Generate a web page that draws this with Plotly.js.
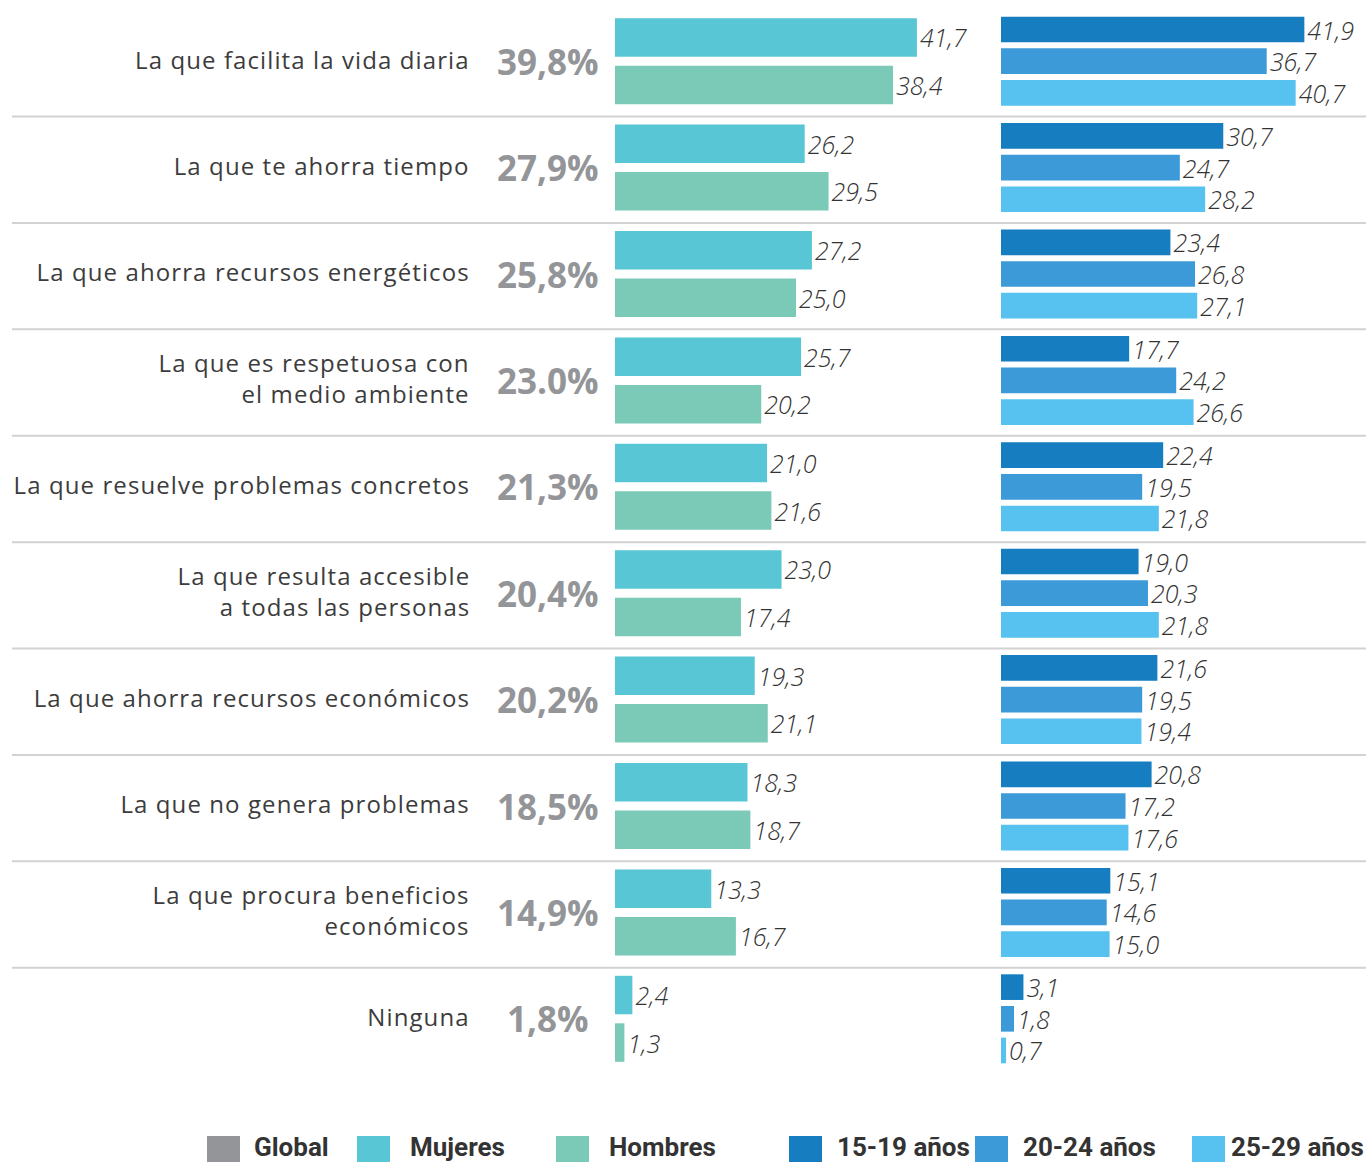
<!DOCTYPE html>
<html><head><meta charset="utf-8">
<script src="https://cdn.plot.ly/plotly-3.0.1.min.js"></script>
<style>html,body{margin:0;padding:0;background:#fff;overflow:hidden}</style>
<style id="lsp"></style>
</head>
<body>
<div id="chart" style="width:1366px;height:1162px"></div>
<script>
const categories = [
  "La que facilita la vida diaria",
  "La que te ahorra tiempo",
  "La que ahorra recursos energéticos",
  "La que es respetuosa con<br>el medio ambiente",
  "La que resuelve problemas concretos",
  "La que resulta accesible<br>a todas las personas",
  "La que ahorra recursos económicos",
  "La que no genera problemas",
  "La que procura beneficios<br>económicos",
  "Ninguna"
];
const globalLabels = ["39,8%","27,9%","25,8%","23.0%","21,3%","20,4%","20,2%","18,5%","14,9%","1,8%"];
const mujeres = [41.7, 26.2, 27.2, 25.7, 21.0, 23.0, 19.3, 18.3, 13.3, 2.4];
const hombres = [38.4, 29.5, 25.0, 20.2, 21.6, 17.4, 21.1, 18.7, 16.7, 1.3];
const age1519 = [41.9, 30.7, 23.4, 17.7, 22.4, 19.0, 21.6, 20.8, 15.1, 3.1];
const age2024 = [36.7, 24.7, 26.8, 24.2, 19.5, 20.3, 19.5, 17.2, 14.6, 1.8];
const age2529 = [40.7, 28.2, 27.1, 26.6, 21.8, 21.8, 19.4, 17.6, 15.0, 0.7];
const legendLabels = ["Global","Mujeres","Hombres","15-19 años","20-24 años","25-29 años"];

const colors = {
  global: "#939598", mujeres: "#58C6D5", hombres: "#7BCAB8",
  a1519: "#157DC0", a2024: "#3B9AD7", a2529: "#57C2EF"
};

const W = 1366, H = 1162, T = 8, B = 90;
const plotH = H - T - B;
const pxX = p => p / W;
const pxY = p => (H - B - p) / plotH;

const valueFont = {family: "Open Sans", size: 25, color: "#333333", style: "italic", weight: 300};

function barTrace(name, values, color, xa) {
  return {
    type: "bar", orientation: "h", name: name,
    x: values, y: categories, xaxis: xa, yaxis: "y",
    marker: {color: color},
    texttemplate: "%{x:.1f}", textposition: "outside",
    textfont: valueFont, cliponaxis: false, constraintext: "none",
    hoverinfo: "skip", showlegend: false
  };
}

const data = [
  barTrace(legendLabels[1], mujeres, colors.mujeres, "x"),
  barTrace(legendLabels[2], hombres, colors.hombres, "x"),
  barTrace(legendLabels[3], age1519, colors.a1519, "x2"),
  barTrace(legendLabels[4], age2024, colors.a2024, "x2"),
  barTrace(legendLabels[5], age2529, colors.a2529, "x2")
];

const shapes = [];
for (let i = 0; i < categories.length - 1; i++) {
  shapes.push({type: "line", xref: "paper", yref: "y", x0: pxX(12), x1: 1,
    y0: i + 0.52, y1: i + 0.52, line: {color: "#d2d2d2", width: 2}});
}
const annotations = [];
categories.forEach((c, i) => {
  annotations.push({xref: "paper", yref: "y", x: pxX(472), y: i - 0.02, text: c,
    xanchor: "right", yanchor: "middle", align: "right", showarrow: false,
    font: {family: "Open Sans", size: 24, color: "#3c3c3c"}});
});
categories.forEach((c, i) => {
  annotations.push({xref: "paper", yref: "y", x: pxX(548), y: i, text: globalLabels[i],
    xanchor: "center", yanchor: "middle", showarrow: false,
    font: {family: "Open Sans", size: 35, color: colors.global, weight: 700}});
});
// letter spacing for the category labels (first annotations)
document.getElementById("lsp").textContent = categories.map((c, i) =>
  '.annotation[data-index="' + i + '"] text{letter-spacing:1.1px}').join("\n");

const legendColors = [colors.global, colors.mujeres, colors.hombres, colors.a1519, colors.a2024, colors.a2529];
const legendSq = [207, 357, 556, 789, 975, 1192];
const legendTx = [252, 408, 607, 835, 1021, 1229];
legendLabels.forEach((l, i) => {
  shapes.push({type: "rect", xref: "paper", yref: "paper",
    x0: pxX(legendSq[i]), x1: pxX(legendSq[i] + 33), y0: pxY(1136), y1: pxY(1164),
    fillcolor: legendColors[i], line: {width: 0}});
  annotations.push({xref: "paper", yref: "paper", x: pxX(legendTx[i]), y: pxY(1147),
    text: "<b>" + l + "</b>", xanchor: "left", yanchor: "middle", showarrow: false,
    font: {family: "Roboto", size: 26, color: "#333333"}});
});

const layout = {
  width: W, height: H,
  margin: {l: 0, r: 0, t: T, b: B, pad: 0},
  paper_bgcolor: "#ffffff", plot_bgcolor: "#ffffff",
  separators: ", ",
  barmode: "group", bargap: 0.107, bargroupgap: 0.19,
  showlegend: false,
  xaxis: {domain: [pxX(615), pxX(977)], range: [0, 50], visible: false, fixedrange: true},
  xaxis2: {domain: [pxX(1001), pxX(1363)], range: [0, 50], visible: false, fixedrange: true},
  yaxis: {type: "category", range: [9.5, -0.5], visible: false, fixedrange: true},
  shapes: shapes,
  annotations: annotations
};

Plotly.newPlot("chart", data, layout, {staticPlot: true, displayModeBar: false});
</script>
</body></html>
